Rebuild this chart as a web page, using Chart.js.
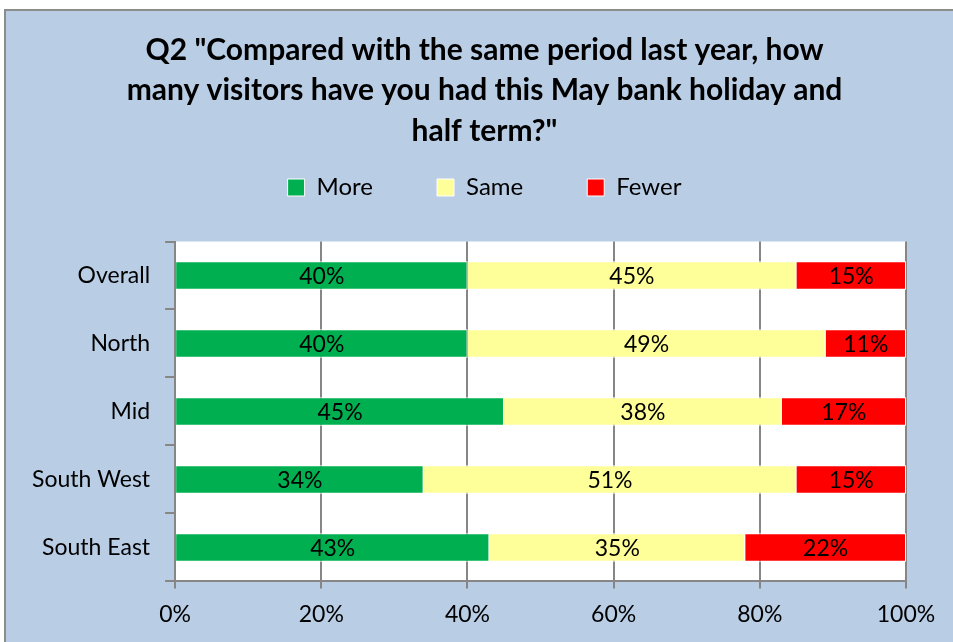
<!DOCTYPE html>
<html>
<head>
<meta charset="utf-8">
<script src="https://cdn.jsdelivr.net/npm/chart.js@4.4.1/dist/chart.umd.min.js"></script>
<style>
  html, body { margin: 0; padding: 0; background: #fff; }
  #wrap { position: relative; width: 953px; height: 642px; }
</style>
</head>
<body>
<div id="wrap"><canvas id="chart" width="953" height="642"></canvas></div>
<script>
const regions = ['Overall', 'North', 'Mid', 'South West', 'South East'];
const more = [40, 40, 45, 34, 43];
const same = [45, 49, 38, 51, 35];
const fewer = [15, 11, 17, 15, 22];
const xTicks = [0, 20, 40, 60, 80, 100];

const FONT = 'Lato, "Liberation Sans", sans-serif';

// light blue frame with grey border, white plot area
const framePlugin = {
    id: 'frame',
    afterLayout(chart) {
        // the original frame is wider than the picture, so title and legend sit right of the canvas centre
        [chart.titleBlock, chart.legend].forEach(b => { b.left += 23; b.right += 23; });
    },
    beforeDraw(chart) {
        const ctx = chart.ctx;
        ctx.save();
        ctx.fillStyle = '#B9CDE5';
        ctx.fillRect(5, 10, chart.width, chart.height);
        ctx.strokeStyle = '#8C8C8C';
        ctx.lineWidth = 2;
        ctx.strokeRect(5, 10, chart.width + 10, chart.height + 10);
        const a = chart.chartArea;
        ctx.fillStyle = '#FFFFFF';
        ctx.fillRect(a.left, a.top, a.right - a.left, a.bottom - a.top);
        ctx.restore();
    }
};

// percentage labels in the middle of each segment
const labelPlugin = {
    id: 'segLabels',
    afterDatasetsDraw(chart) {
        const ctx = chart.ctx;
        ctx.save();
        ctx.font = '23px ' + FONT;
        ctx.fillStyle = '#000';
        ctx.textAlign = 'center';
        ctx.textBaseline = 'middle';
        chart.data.datasets.forEach((ds, i) => {
            chart.getDatasetMeta(i).data.forEach((bar, j) => {
                const x = (bar.x + bar.base) / 2;
                ctx.fillText(ds.data[j] + '%', x, bar.y + 1);
            });
        });
        ctx.restore();
    }
};

const ctx = document.getElementById('chart').getContext('2d');
new Chart(ctx, {
    type: 'bar',
    data: {
        labels: regions,
        datasets: [
            { label: 'More', data: more, backgroundColor: '#00B050', borderColor: '#FFFFFF', borderWidth: 1 },
            { label: 'Same', data: same, backgroundColor: '#FFFF99', borderColor: '#FFFFFF', borderWidth: 1 },
            { label: 'Fewer', data: fewer, backgroundColor: '#FF0000', borderColor: '#FFFFFF', borderWidth: 1 }
        ]
    },
    plugins: [framePlugin, labelPlugin],
    options: {
        indexAxis: 'y',
        responsive: false,
        animation: false,
        barPercentage: 0.42,
        categoryPercentage: 1,
        layout: { padding: { left: 17, right: 47, top: 30, bottom: 2 } },
        plugins: {
            title: {
                display: true,
                text: ['Q2 "Compared with the same period last year, how',
                       'many visitors have you had this May bank holiday and',
                       'half term?"'],
                color: '#000',
                font: { family: FONT, size: 30, weight: 'bold', lineHeight: 1.35 },
                padding: { top: 0, bottom: -40 }
            },
            legend: {
                display: true,
                labels: {
                    color: '#000',
                    font: { family: FONT, size: 24 },
                    boxWidth: 17,
                    boxHeight: 17,
                    padding: 64
                }
            },
            tooltip: { enabled: false }
        },
        scales: {
            x: {
                stacked: true,
                min: 0,
                max: 100,
                afterBuildTicks(axis) { axis.ticks = xTicks.map(v => ({ value: v })); },
                ticks: {
                    color: '#000',
                    font: { family: FONT, size: 23 },
                    padding: 12,
                    callback: v => v + '%'
                },
                grid: { color: '#868686', lineWidth: 2, tickLength: 7 },
                border: { color: '#868686', width: 2 }
            },
            // empty top axis, only keeps a gap between legend and plot
            gap: {
                axis: 'x',
                position: 'top',
                display: true,
                ticks: { display: false },
                grid: { display: false },
                border: { display: false },
                afterFit(scale) { scale.height = 32; }
            },
            y: {
                stacked: true,
                ticks: { color: '#000', font: { family: FONT, size: 23 }, padding: 15 },
                grid: { offset: true, drawOnChartArea: false, color: '#868686', lineWidth: 2, tickLength: 10 },
                border: { color: '#868686', width: 2 }
            }
        }
    }
});
</script>
</body>
</html>
